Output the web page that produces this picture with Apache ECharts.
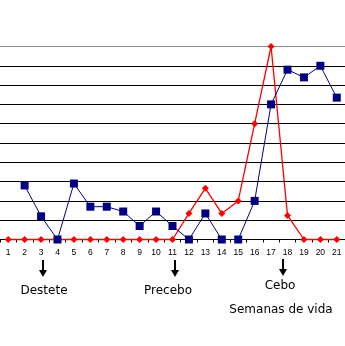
<!DOCTYPE html>
<html>
<head>
<meta charset="utf-8">
<script src="https://cdn.jsdelivr.net/npm/echarts@6/dist/echarts.min.js"></script>
<style>
  html, body { margin: 0; padding: 0; background: #fff; }
  #chart { width: 345px; height: 346px; }
</style>
</head>
<body>
<div id="chart"></div>
<script>
// Weeks of life (1..21)
const weeks = ['1','2','3','4','5','6','7','8','9','10','11','12','13','14','15','16','17','18','19','20','21'];

// Blue series (squares); no value in week 1
const blueValues = ['-', 2.8, 1.2, 0, 2.9, 1.7, 1.7, 1.45, 0.7, 1.45, 0.7, 0, 1.35, 0, 0, 2.0, 7.0, 8.8, 8.4, 9.0, 7.35];

// Red series (diamonds)
const redValues = [0, 0, 0, 0, 0, 0, 0, 0, 0, 0, 0, 1.35, 2.65, 1.35, 2.0, 6.0, 10.0, 1.25, 0, 0, 0];

// Stage annotations below the axis
const stages = [
  { text: 'Destete', x: 44, y: 291, arrowX: 43, arrowTop: 260, arrowBottom: 277 },
  { text: 'Precebo', x: 168, y: 291, arrowX: 175, arrowTop: 260, arrowBottom: 277 },
  { text: 'Cebo', x: 280, y: 286, arrowX: 283, arrowTop: 259, arrowBottom: 276 }
];
const axisTitle = { text: 'Semanas de vida', x: 281, y: 310 };

const chart = echarts.init(document.getElementById('chart'), null, { renderer: 'canvas' });

// Horizontal rules: black, with a grey top border
const splitColors = ['#000','#000','#000','#000','#000','#000','#000','#000','#000','#000','#8c8c8c'];

const graphics = [];
stages.forEach(function (s) {
  const headH = 7, headW = 8;
  graphics.push({
    type: 'rect',
    shape: { x: s.arrowX - 1, y: s.arrowTop, width: 2, height: s.arrowBottom - s.arrowTop - headH },
    style: { fill: '#000' }
  });
  graphics.push({
    type: 'polygon',
    shape: { points: [[s.arrowX - headW / 2, s.arrowBottom - headH], [s.arrowX + headW / 2, s.arrowBottom - headH], [s.arrowX, s.arrowBottom]] },
    style: { fill: '#000' }
  });
  graphics.push({
    type: 'text',
    x: s.x, y: s.y,
    style: { text: s.text, fill: '#000', font: '12px "DejaVu Sans"', textAlign: 'center', textVerticalAlign: 'middle' }
  });
});
graphics.push({
  type: 'text',
  x: axisTitle.x, y: axisTitle.y,
  style: { text: axisTitle.text, fill: '#000', font: '12px "DejaVu Sans"', textAlign: 'center', textVerticalAlign: 'middle' }
});

chart.setOption({
  animation: false,
  backgroundColor: '#fff',
  grid: { left: -1, top: 46.5, width: 347.6, height: 193, containLabel: false },
  xAxis: {
    type: 'category',
    data: weeks,
    boundaryGap: true,
    axisLine: { show: true, lineStyle: { color: '#000', width: 1 } },
    axisTick: { show: true, alignWithLabel: false, length: 3, lineStyle: { color: '#000' } },
    axisLabel: { color: '#000', fontSize: 8.5, fontFamily: 'Liberation Sans', margin: 9, interval: 0 },
    splitLine: { show: false }
  },
  yAxis: {
    type: 'value',
    min: 0, max: 10, interval: 1,
    axisLine: { show: false },
    axisTick: { show: false },
    axisLabel: { show: false },
    splitLine: { show: true, lineStyle: { color: splitColors, width: 1 } }
  },
  series: [
    {
      name: 'rojo',
      type: 'line',
      data: redValues,
      symbol: 'diamond',
      symbolSize: 7,
      showAllSymbol: true,
      clip: false,
      zlevel: 1,
      itemStyle: { color: '#ff0000' },
      lineStyle: { color: '#ff0000', width: 1.3 },
      z: 2
    },
    {
      name: 'azul',
      type: 'line',
      data: blueValues,
      symbol: 'rect',
      symbolSize: 8,
      showAllSymbol: true,
      connectNulls: false,
      clip: false,
      zlevel: 1,
      itemStyle: { color: '#000080' },
      lineStyle: { color: '#000080', width: 1 },
      z: 3
    }
  ],
  graphic: graphics
});
</script>
</body>
</html>
